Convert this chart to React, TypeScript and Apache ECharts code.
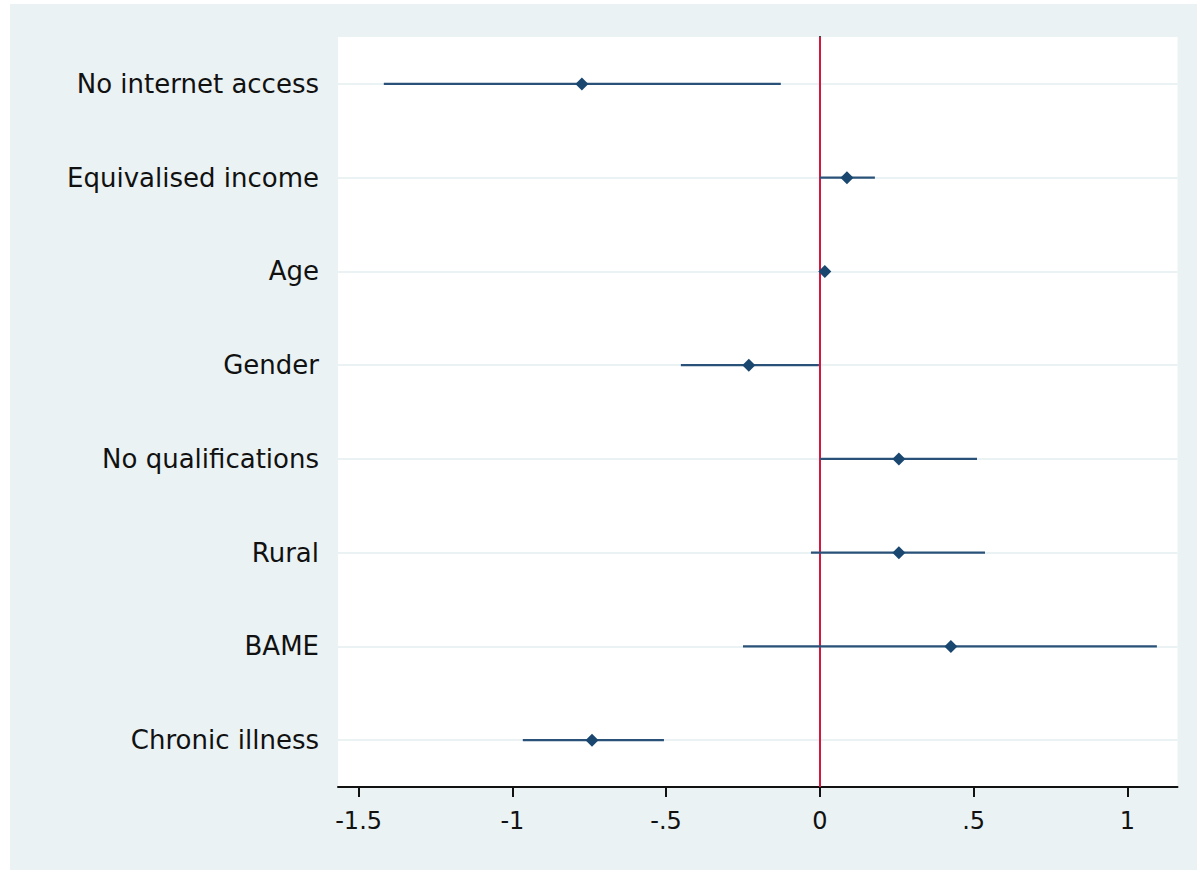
import React, { useEffect, useRef } from "react";
import * as echarts from "echarts";

const categories = [
  "No internet access",
  "Equivalised income",
  "Age",
  "Gender",
  "No qualifications",
  "Rural",
  "BAME",
  "Chronic illness",
];
const estimates = [-0.774, 0.088, 0.016, -0.231, 0.257, 0.257, 0.426, -0.741];
const lower = [-1.418, 0.0, 0.01, -0.452, 0.001, -0.029, -0.25, -0.966];
const upper = [-0.127, 0.179, 0.022, -0.003, 0.511, 0.537, 1.096, -0.507];
const xTicks = [-1.5, -1, -0.5, 0, 0.5, 1];

const X_MIN = -1.567;
const X_MAX = 1.163;
const NAVY = "#1a476f";
const FONT = "DejaVu Sans";

export default function App() {
  const ref = useRef<HTMLDivElement>(null);
  useEffect(() => {
    if (!ref.current) return;
    const chart = echarts.init(ref.current, null, { renderer: "svg" });
    const fmt = (v: number) => {
      const s = String(v);
      return s.replace(/^0\./, ".").replace(/^-0\./, "-.");
    };
    const gridLines = categories.map((c) => ({
      yAxis: c,
      lineStyle: { color: "#eaf2f3", width: 2, type: "solid" },
    }));
    chart.setOption({
      animation: false,
      backgroundColor: "#ffffff",
      graphic: [
        {
          type: "rect",
          z: -10,
          silent: true,
          shape: { x: 10, y: 4, width: 1187, height: 866 },
          style: { fill: "#eaf2f3" },
        },
      ],
      grid: {
        left: 338,
        top: 37,
        right: 19.5,
        bottom: 83,
        show: true,
        backgroundColor: "#ffffff",
        borderWidth: 0,
      },
      xAxis: {
        type: "value",
        min: X_MIN,
        max: X_MAX,
        splitLine: { show: false },
        axisLine: { show: true, onZero: false, lineStyle: { color: "#111", width: 2 } },
        axisTick: {
          show: true,
          length: 10,
          customValues: xTicks,
          lineStyle: { color: "#111", width: 2 },
        },
        axisLabel: {
          customValues: xTicks,
          formatter: fmt,
          fontFamily: FONT,
          fontSize: 24,
          color: "#111",
          margin: 22,
        },
      },
      yAxis: {
        type: "category",
        data: categories,
        inverse: true,
        boundaryGap: true,
        splitLine: { show: false },
        axisLine: { show: true, lineStyle: { color: "#111", width: 2 } },
        axisTick: {
          show: true,
          alignWithLabel: true,
          length: 11,
          lineStyle: { color: "#111", width: 2 },
        },
        axisLabel: {
          fontFamily: FONT,
          fontSize: 26,
          color: "#111",
          margin: 19,
        },
      },
      series: [
        {
          type: "custom",
          name: "ci",
          z: 3,
          silent: true,
          data: categories.map((c, i) => [lower[i], upper[i], i]),
          encode: { x: [0, 1], y: 2 },
          renderItem: (params: any, api: any) => {
            const p1 = api.coord([api.value(0), api.value(2)]);
            const p2 = api.coord([api.value(1), api.value(2)]);
            return {
              type: "line",
              shape: { x1: p1[0], y1: p1[1], x2: p2[0], y2: p2[1] },
              style: { stroke: "#2a5279", lineWidth: 2.2 },
            };
          },
        },
        {
          type: "scatter",
          name: "estimate",
          z: 4,
          symbol: "diamond",
          symbolSize: 13,
          itemStyle: { color: NAVY, opacity: 1 },
          data: categories.map((c, i) => [estimates[i], i]),
          markLine: {
            silent: true,
            symbol: "none",
            z: 1,
            label: { show: false },
            data: [
              ...gridLines,
              { xAxis: 0, lineStyle: { color: "#d5173f", width: 2, type: "solid" } },
            ],
          },
        },
      ],
    });
    return () => chart.dispose();
  }, []);
  return (
    <div
      ref={ref}
      style={{ position: "absolute", left: 0, top: 0, width: 1197, height: 870 }}
    />
  );
}
